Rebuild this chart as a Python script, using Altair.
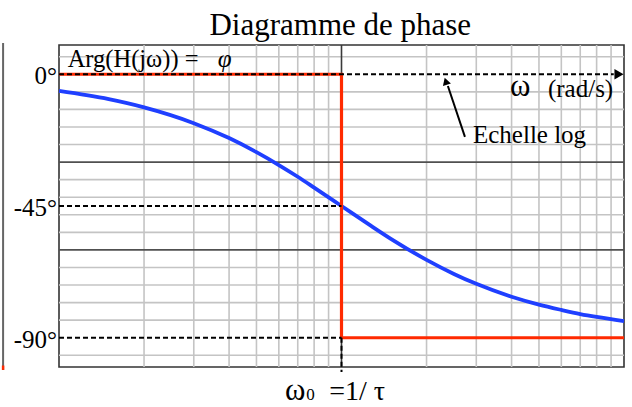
import altair as alt
import pandas as pd

# ---- data ----
omega = [0.1, 0.15, 0.2, 0.3, 0.4, 0.5, 0.6, 0.7, 0.8, 1.0, 1.25, 1.5, 2.0, 2.5, 3.0, 4.0, 5.0, 6.0, 7.0, 8.0, 10.0]
phase = [-5.7, -8.5, -11.3, -16.7, -21.8, -26.6, -31.0, -35.0, -38.7, -45.0, -51.3, -56.3, -63.4, -68.2, -71.6, -76.0, -78.7, -80.5, -81.9, -82.9, -84.3]

asym_w = [0.1, 1.0, 1.0, 10.0]
asym_p = [0, 0, -90, -90]

minor_x = [0.2, 0.3, 0.4, 0.5, 0.6, 0.7, 0.8, 0.9, 2, 3, 4, 5, 6, 7, 8, 9]
major_x = [1]
minor_y = [6, -6, -12, -18, -24, -36, -42, -48, -54, -66, -72, -78, -84, -96]
major_y = [-30, -60]
y_labels = [0, -45, -90]
y_label_text = ["0°", "-45°", "-90°"]

SERIF = "Liberation Serif"
xs = alt.Scale(type="log", domain=[0.1, 10], nice=False)
ys = alt.Scale(domain=[-100, 10], nice=False)


def X(f="w"):
    return alt.X(f + ":Q", scale=xs, axis=None)


def Y(f="p"):
    return alt.Y(f + ":Q", scale=ys, axis=None)


curve_df = pd.DataFrame({"w": omega, "p": phase})
asym_df = pd.DataFrame({"w": asym_w, "p": asym_p, "o": list(range(len(asym_w)))})

minor_v = alt.Chart(pd.DataFrame({"w": minor_x})).mark_rule(color="#c4c4c4", strokeWidth=1.6).encode(x=X())
major_v = alt.Chart(pd.DataFrame({"w": major_x})).mark_rule(color="#3a3a3a", strokeWidth=1.6).encode(x=X())
minor_h = alt.Chart(pd.DataFrame({"p": minor_y})).mark_rule(color="#c4c4c4", strokeWidth=1.6).encode(y=Y())
major_h = alt.Chart(pd.DataFrame({"p": major_y})).mark_rule(color="#505050", strokeWidth=1.6).encode(y=Y())

ylab = alt.Chart(pd.DataFrame({"w": [0.1] * 3, "p": y_labels, "t": y_label_text})).mark_text(
    font=SERIF, fontSize=25, align="right", baseline="middle", dx=-2, dy=2, color="black").encode(
    x=X(), y=Y(), text="t:N")

curve = alt.Chart(curve_df).mark_line(color="#1f3fff", strokeWidth=3.8, interpolate="monotone").encode(
    x=X(), y=Y())
asym = alt.Chart(asym_df).mark_line(color="#ff2a00", strokeWidth=3.2).encode(
    x=X(), y=Y(), order="o:Q")

# dashed black guide lines
dash_df = pd.DataFrame({
    "w": [0.1, 9.2, 0.1, 1.0, 0.1, 1.0, 1.0, 1.0],
    "p": [0, 0, -45, -45, -90, -90, -90, -101.7],
    "g": ["a", "a", "b", "b", "c", "c", "d", "d"],
})
dashes = alt.Chart(dash_df).mark_line(color="black", strokeWidth=2, strokeDash=[5, 3]).encode(
    x=X(), y=Y(), detail="g:N")

head = alt.Chart(pd.DataFrame({"w": [9.6], "p": [0]})).mark_point(
    shape="triangle-right", filled=True, color="black", size=110, opacity=1).encode(x=X(), y=Y())

# "Echelle log" pointer
ptr_df = pd.DataFrame({"w": [2.735, 2.38], "p": [-21.4, -4.0]})
ptr = alt.Chart(ptr_df).mark_line(color="black", strokeWidth=2).encode(x=X(), y=Y())
ptr_head = alt.Chart(pd.DataFrame({"w": [2.34], "p": [-2.4]})).mark_point(
    shape="triangle-up", filled=True, color="black", size=70, angle=342, opacity=1).encode(x=X(), y=Y())

# left edge strip (piece of neighbouring chart)
strip = alt.Chart(pd.DataFrame({"w": [0.0634, 0.0634], "p": [10.7, -101]})).mark_line(
    color="#666666", strokeWidth=2).encode(x=X(), y=Y())
strip_red = alt.Chart(pd.DataFrame({"w": [0.0634, 0.0634], "p": [-99.5, -101]})).mark_line(
    color="#ff2a00", strokeWidth=2.5).encode(x=X(), y=Y())

# text annotations
txt_df = pd.DataFrame({
    "w": [0.1073, 3.95, 5.38, 2.92, 0.631, 0.75, 0.905],
    "p": [2.6, -7.4, -7.6, -23.5, -111.2, -111.2, -111.2],
    "t": ["Arg(H(jω)) =", "ω", "(rad/s)", "Echelle log", "ω", "0", "=1/ τ"],
    "s": [24.5, 31, 25, 25, 31, 17, 28],
})

title_t = alt.Chart(pd.DataFrame({"w": [0.99], "p": [13.4], "t": ["Diagramme de phase"]})).mark_text(
    font=SERIF, baseline="alphabetic", color="black", align="center", fontSize=31).encode(
    x=X(), y=Y(), text="t:N")
other_t = alt.Chart(txt_df).mark_text(font=SERIF, baseline="alphabetic", color="black",
                                      align="left").encode(
    x=X(), y=Y(), text="t:N", size=alt.Size("s:Q", scale=None, legend=None))

phi = alt.Chart(pd.DataFrame({"w": [0.3646], "p": [2.6], "t": ["φ"]})).mark_text(
    font=SERIF, fontStyle="italic", baseline="alphabetic", align="left", fontSize=25, color="black").encode(
    x=X(), y=Y(), text="t:N")

chart = alt.layer(
    minor_v, minor_h, major_v, major_h, curve, asym, dashes, head, ptr, ptr_head,
    strip, strip_red, ylab, title_t, other_t, phi
).properties(
    width=565, height=322,
    autosize=alt.AutoSizeParams(type="none"),
    padding={"left": 59, "top": 45, "right": 8, "bottom": 40},
    background="white",
).configure_view(stroke="#333333", strokeWidth=1.6)

chart.save("out.html", embed_options={"renderer": "svg", "actions": False})
